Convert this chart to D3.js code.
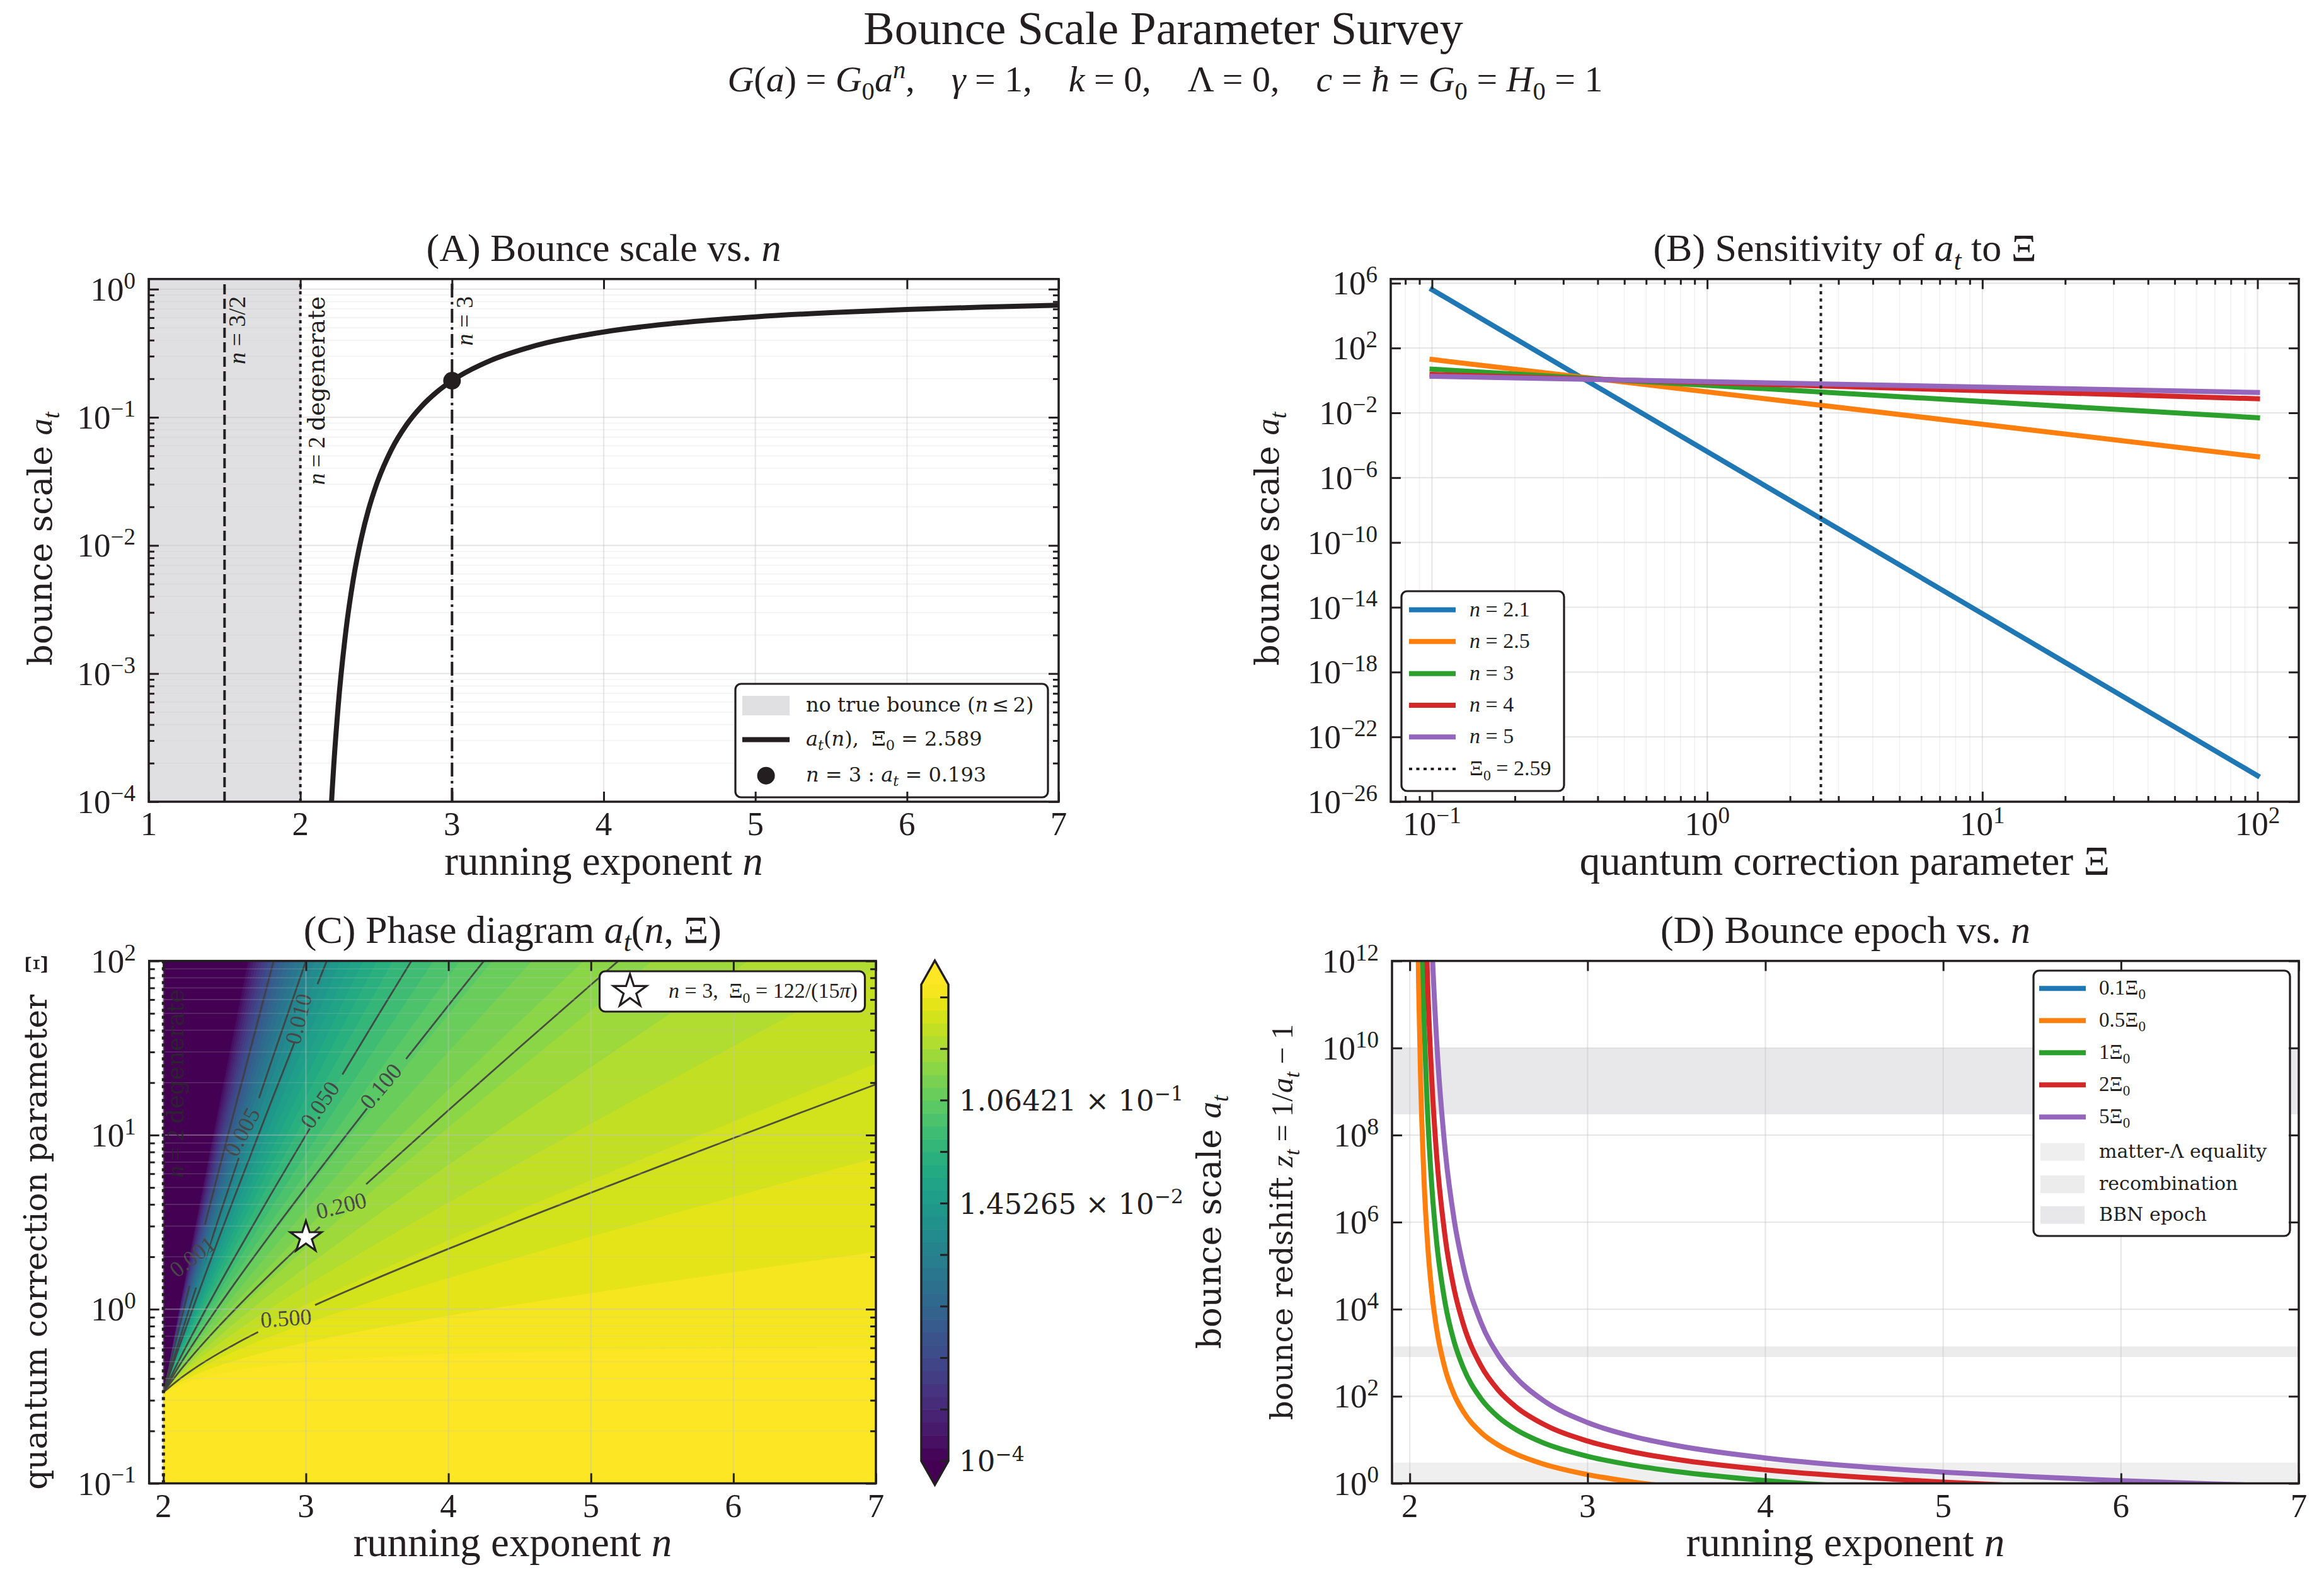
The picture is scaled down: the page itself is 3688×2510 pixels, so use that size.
<!DOCTYPE html>
<html><head><meta charset="utf-8">
<script src="https://d3js.org/d3.v7.min.js"></script>
<style>html,body{margin:0;padding:0;background:#fff;} svg text{white-space:pre;}</style>
</head><body>
<svg id="fig" xmlns="http://www.w3.org/2000/svg" width="3688" height="2510"></svg>
<script>
// ===================== DATA =====================
const XI0 = 2.589;                       // Ξ0 = 122/(15π)

// Panel A : bounce scale a_t(n) at Ξ0
const aN  = [2.20, 2.21, 2.22, 2.25, 2.30, 2.35, 2.40, 2.45, 2.50, 2.60, 2.70, 2.80, 2.90, 3.00, 3.25, 3.50, 4.00, 4.50, 5.00, 5.50, 6.00, 6.50, 7.00];
const aAt = [7.65e-5, 1.235e-4, 1.91e-4, 5.70e-4, 2.15e-3, 5.53e-3, 1.115e-2, 1.917e-2, 2.947e-2, 5.58e-2, 8.75e-2, 0.1221, 0.1577, 0.1931, 0.2763, 0.3488, 0.4633, 0.5465, 0.6084, 0.6562, 0.6941, 0.7244, 0.7491];
const aMarkN = 3, aMarkAt = 0.193;
const aSpanN = [1, 2];
const aRefN = [1.5, 2, 3];
const aXTicks = [1, 2, 3, 4, 5, 6, 7];
const aYExp = [-4, -3, -2, -1, 0];

// Panel B : a_t versus Ξ for several n (straight lines in log-log)
const bN = [2.1, 2.5, 3, 4, 5];
const bXiEnds = [0.1, 100];
const bAtLow  = [4.04e5, 19.75, 5.0, 2.357, 1.800];            // at Ξ = 0.1
const bAtHigh = [4.04e-25, 1.975e-5, 5.0e-3, 7.45e-2, 0.180];  // at Ξ = 100
const bXExp = [-1, 0, 1, 2];
const bYExp = [6, 2, -2, -6, -10, -14, -18, -22, -26];

// Panel C : phase diagram. Ξ at which a_t = 1 for each n (edge of the yellow region);
// iso-lines of a_t follow the Ξ^(-1/(n-2)) scaling seen in panel B.
const phaseN      = [2.0, 2.1, 2.2, 2.3, 2.4, 2.5, 2.75, 3.0, 3.5, 4.0, 4.5, 5.0, 5.5, 6.0, 6.5, 7.0];
const phaseUnitXi = [0.3333, 0.3636, 0.3889, 0.4103, 0.4286, 0.4444, 0.4762, 0.5, 0.5333, 0.5556, 0.5714, 0.5833, 0.5926, 0.6, 0.6061, 0.6111];
const cbarExp = [-4, -3.8919, -3.7838, -3.6757, -3.5676, -3.4595, -3.3514, -3.2432, -3.1351, -3.0270,
                 -2.9189, -2.8108, -2.7027, -2.5946, -2.4865, -2.3784, -2.2703, -2.1622, -2.0541, -1.9459,
                 -1.8378, -1.7297, -1.6216, -1.5135, -1.4054, -1.2973, -1.1892, -1.0811, -0.9730, -0.8649,
                 -0.7568, -0.6486, -0.5405, -0.4324, -0.3243, -0.2162, -0.1081, 0];
const cbarTickIdx = [0, 4, 8, 12, 16, 20, 24, 28, 32, 36];
const cbarLabelIdx = [0, 20, 28];
const cbarLabelMant = ['', '1.45265', '1.06421'];
const cbarLabelExp = [-4, -2, -1];
const contourLevels = [0.001, 0.005, 0.010, 0.050, 0.100, 0.200, 0.500];
const contourLabels = ['0.001', '0.005', '0.010', '0.050', '0.100', '0.200', '0.500'];
const contourLabelN = [2.237, 2.60, 3.00, 3.142, 3.566, 3.261, 2.864];
const contourLabelAngle = [-38, -62, -76, -56, -50, -14, -4];
const cXTicks = [2, 3, 4, 5, 6, 7];
const cYExp = [-1, 0, 1, 2];
const cStarN = 3, cStarXi = 2.589;

// Panel D : bounce redshift z_t = 1/a_t - 1 for Ξ = k Ξ0
const dNames = ['0.1', '0.5', '1', '2', '5'];
const dN01 = [], dZ01 = [];   // z_t < 0 over the whole range: nothing visible
const dN05 = [2.04, 2.05, 2.06, 2.08, 2.10, 2.125, 2.15, 2.20, 2.25, 2.30, 2.40, 2.50, 2.60, 2.75, 3.00, 3.25, 3.50];
const dZ05 = [2.09e14, 2.40e11, 2.64e9, 9.49e6, 3.27e5, 2.226e4, 3741, 407.6, 108.7, 45.1, 14.86, 7.48, 4.64, 2.79, 1.589, 1.079, 0.806];
const dN1  = [2.06, 2.08, 2.10, 2.125, 2.15, 2.20, 2.25, 2.30, 2.40, 2.50, 2.60, 2.75, 3.00, 3.25, 3.50, 4.00, 4.50];
const dZ1  = [2.75e14, 5.50e10, 3.35e8, 5.70e6, 3.80e5, 1.307e4, 1754, 463, 88.7, 32.9, 16.9, 8.56, 4.18, 2.62, 1.867, 1.158, 0.830];
const dN2  = [2.08, 2.10, 2.125, 2.15, 2.20, 2.25, 2.30, 2.40, 2.50, 2.60, 2.75, 3.00, 3.25, 3.50, 4.00, 4.50, 5.00, 5.50, 6.00];
const dZ2  = [3.18e14, 3.43e11, 1.46e9, 3.86e7, 4.18e5, 2.81e4, 4680, 506, 134.7, 55.9, 23.1, 9.36, 5.30, 3.55, 2.053, 1.415, 1.071, 0.858, 0.714];
const dN5  = [2.10, 2.125, 2.15, 2.20, 2.25, 2.30, 2.40, 2.50, 2.60, 2.75, 3.00, 3.25, 3.50, 4.00, 4.50, 5.00, 5.50, 6.00, 6.50, 7.00];
const dZ5  = [3.27e15, 2.23e12, 1.74e10, 4.09e7, 1.097e6, 9.93e4, 5013, 847, 260.9, 80.7, 24.9, 12.12, 7.38, 3.83, 2.484, 1.810, 1.414, 1.155, 0.975, 0.842];
const dBandNames = ['matter-\u039B equality', 'recombination', 'BBN epoch'];
const dBandLo = [0.3, 800, 3e8];
const dBandHi = [3, 1400, 1e10];
const dXTicks = [2, 3, 4, 5, 6, 7];
const dYExp = [0, 2, 4, 6, 8, 10, 12];

// ===================== STYLE / HELPERS =====================
const W = 3688, H = 2510;
const INK = '#231f20';
const FN = "'Liberation Serif', 'Times New Roman', serif";
const FW = "'DejaVu Serif', serif";
const TAB = ['#1f77b4', '#ff7f0e', '#2ca02c', '#d62728', '#9467bd'];
const SPAN = '#e0e0e3';
const GRID = '#c4c4c4';
const BANDC = ['#efefef', '#ececec', '#e8e8eb'];
const pow10 = e => Math.pow(10, e);
const expStr = e => (e < 0 ? '\u2212' + Math.abs(e) : String(e));

const svg = d3.select('#fig');
svg.append('rect').attr('width', W).attr('height', H).attr('fill', '#fff');
const defs = svg.append('defs');

function rich(sel, parts, size) {
  let shift = 0;
  parts.forEach(p => {
    if (typeof p === 'string') p = {t: p};
    const ts = sel.append('tspan').text(p.t);
    if (p.i) ts.attr('font-style', 'italic');
    if (p.f) ts.attr('font-family', p.f);
    const target = p.sub ? 0.22 * size : (p.sup ? -0.36 * size : 0);
    if (target !== shift) ts.attr('dy', target - shift);
    shift = target;
    if (p.sub || p.sup) ts.attr('font-size', 0.7 * size);
  });
  return sel;
}
function addText(g, x, y, parts, o = {}) {
  const size = o.size || 50;
  const t = g.append('text').attr('x', x).attr('y', y)
    .attr('xml:space', 'preserve')
    .attr('font-family', o.font || FN).attr('font-size', size)
    .attr('fill', o.fill || INK).attr('text-anchor', o.anchor || 'start');
  if (o.rotate) t.attr('transform', `rotate(${o.rotate},${x},${y})`);
  if (o.opacity) t.attr('opacity', o.opacity);
  rich(t, Array.isArray(parts) ? parts : [parts], size);
  return t;
}
function clipFor(id, x, y) {
  const [x0, x1] = x.range(), [y0, y1] = y.range();
  defs.append('clipPath').attr('id', id).append('rect')
    .attr('x', x0).attr('y', y1).attr('width', x1 - x0).attr('height', y0 - y1);
  return `url(#${id})`;
}
function minorLog(domain) {
  const [lo, hi] = domain, out = [];
  for (let d = Math.floor(Math.log10(lo)) - 1; d <= Math.ceil(Math.log10(hi)); d++)
    for (let m = 2; m <= 9; m++) { const v = m * pow10(d); if (v > lo * 1.0001 && v < hi * 0.9999) out.push(v); }
  return out;
}
function grid(g, x, y, xMaj, xMin, yMaj, yMin) {
  const [x0, x1] = x.range(), [y0, y1] = y.range();
  const gg = g.append('g').attr('stroke', GRID).attr('fill', 'none');
  const vl = (vals, op, w) => vals.forEach(v => gg.append('line').attr('x1', x(v)).attr('x2', x(v))
      .attr('y1', y0).attr('y2', y1).attr('stroke-opacity', op).attr('stroke-width', w));
  const hl = (vals, op, w) => vals.forEach(v => gg.append('line').attr('y1', y(v)).attr('y2', y(v))
      .attr('x1', x0).attr('x2', x1).attr('stroke-opacity', op).attr('stroke-width', w));
  vl(xMin, 0.22, 1.6); hl(yMin, 0.22, 1.6); vl(xMaj, 0.4, 2.2); hl(yMaj, 0.4, 2.2);
}
function frame(g, x, y, xMaj, xMin, yMaj, yMin) {
  const [xl, xr] = x.range(), [yb, yt] = y.range();
  const mk = (gen, sc, vals, len, tr) => {
    if (!vals || !vals.length) return;
    const a = g.append('g').attr('transform', tr)
      .call(gen(sc).tickValues(vals).tickSize(-len).tickFormat(() => ''));
    a.select('.domain').remove();
    a.selectAll('.tick line').attr('stroke', INK).attr('stroke-width', 3);
    a.selectAll('.tick text').remove();
  };
  mk(d3.axisBottom, x, xMaj, 16, `translate(0,${yb})`);
  mk(d3.axisTop, x, xMaj, 16, `translate(0,${yt})`);
  mk(d3.axisBottom, x, xMin, 9, `translate(0,${yb})`);
  mk(d3.axisTop, x, xMin, 9, `translate(0,${yt})`);
  mk(d3.axisLeft, y, yMaj, 16, `translate(${xl},0)`);
  mk(d3.axisRight, y, yMaj, 16, `translate(${xr},0)`);
  mk(d3.axisLeft, y, yMin, 9, `translate(${xl},0)`);
  mk(d3.axisRight, y, yMin, 9, `translate(${xr},0)`);
  g.append('rect').attr('x', xl).attr('y', yt).attr('width', xr - xl).attr('height', yb - yt)
    .attr('fill', 'none').attr('stroke', INK).attr('stroke-width', 3.5);
}
function legendBox(g, x, y, w, h) {
  g.append('rect').attr('x', x).attr('y', y).attr('width', w).attr('height', h).attr('rx', 9)
    .attr('fill', '#fff').attr('stroke', INK).attr('stroke-width', 3.2);
}
const TICK = 53;
function xTickLabels(g, x, vals, yBase, isLog) {
  vals.forEach(v => addText(g, x(isLog ? pow10(v) : v), yBase,
    isLog ? ['10', {t: expStr(v), sup: true}] : String(v), {size: TICK, anchor: 'middle'}));
}
function yLogLabels(g, y, exps, xRight) {
  exps.forEach(e => addText(g, xRight, y(pow10(e)) + 0.34 * TICK, ['10', {t: expStr(e), sup: true}],
    {size: TICK, anchor: 'end'}));
}
const YL = 53, XL = 65, TT = 62;
const atParts = [{t: 'a', i: true, f: FN}, {t: 't', i: true, sub: true, f: FN}];

// ===================== SUPTITLE =====================
addText(svg, 1846, 70, 'Bounce Scale Parameter Survey', {size: 74, anchor: 'middle'});
addText(svg, 1849, 145, [
  {t: 'G', i: true}, '(', {t: 'a', i: true}, ') = ', {t: 'G', i: true}, {t: '0', sub: true}, {t: 'a', i: true},
  {t: 'n', i: true, sup: true}, ',    ', {t: '\u03B3', i: true}, ' = 1,    ', {t: 'k', i: true}, ' = 0,    \u039B = 0,    ',
  {t: 'c', i: true}, ' = ', {t: '\u0127', i: true}, ' = ', {t: 'G', i: true}, {t: '0', sub: true}, ' = ',
  {t: 'H', i: true}, {t: '0', sub: true}, ' = 1'], {size: 58, anchor: 'middle'});

// ===================== PANEL A =====================
{
  const x = d3.scaleLinear().domain([1, 7]).range([236, 1680]);
  const y = d3.scaleLog().domain([1e-4, 1.2]).range([1272, 442.7]);
  const g = svg.append('g');
  const cp = clipFor('clipA', x, y);
  const [yb, yt] = y.range();
  g.append('rect').attr('x', x(aSpanN[0])).attr('width', x(aSpanN[1]) - x(aSpanN[0]))
    .attr('y', yt).attr('height', yb - yt).attr('fill', SPAN);
  const yMaj = aYExp.map(pow10), yMin = minorLog(y.domain());
  grid(g, x, y, aXTicks, [], yMaj, yMin);
  const dashes = ['16,7', '5,6.5', '22,7,4,7'];
  aRefN.forEach((n, i) => g.append('line').attr('x1', x(n)).attr('x2', x(n)).attr('y1', yb).attr('y2', yt)
    .attr('stroke', INK).attr('stroke-width', 4).attr('stroke-dasharray', dashes[i]));
  const line = d3.line().x(d => x(d[0])).y(d => y(d[1])).curve(d3.curveMonotoneX);
  g.append('path').attr('d', line(d3.zip(aN, aAt))).attr('fill', 'none').attr('stroke', INK)
    .attr('stroke-width', 8).attr('stroke-linecap', 'square').attr('clip-path', cp);
  g.append('circle').attr('cx', x(aMarkN)).attr('cy', y(aMarkAt)).attr('r', 14).attr('fill', INK);
  // annotations
  addText(g, x(aRefN[0]) + 33, y(0.88), [{t: 'n', i: true}, ' = 3/2'], {size: 38, anchor: 'end', rotate: -90});
  addText(g, x(aRefN[1]) + 38, y(0.88), [{t: 'n', i: true}, ' = 2 ', {t: 'degenerate', f: FW}], {size: 37, anchor: 'end', rotate: -90});
  addText(g, x(aRefN[2]) + 33, y(0.88), [{t: 'n', i: true}, ' = 3'], {size: 38, anchor: 'end', rotate: -90});
  // legend
  legendBox(g, 1167, 1085, 496, 180);
  g.append('rect').attr('x', 1178).attr('y', 1104).attr('width', 75).attr('height', 31).attr('fill', SPAN);
  g.append('line').attr('x1', 1178).attr('x2', 1253).attr('y1', 1173.5).attr('y2', 1173.5).attr('stroke', INK).attr('stroke-width', 8);
  g.append('circle').attr('cx', 1215.6).attr('cy', 1230.7).attr('r', 14).attr('fill', INK);
  const LS = 32;
  addText(g, 1279, 1119.5 + 0.3 * LS, ['no true bounce (', {t: 'n', i: true}, '\u2009\u2264\u20092)'], {size: LS, font: FW});
  addText(g, 1279, 1173.5 + 0.3 * LS, [{t: 'a', i: true}, {t: 't', i: true, sub: true}, '(', {t: 'n', i: true}, '),  \u039E', {t: '0', sub: true}, ' = 2.589'], {size: LS, font: FW});
  addText(g, 1279, 1230.7 + 0.3 * LS, [{t: 'n', i: true}, ' = 3 : ', {t: 'a', i: true}, {t: 't', i: true, sub: true}, ' = 0.193'], {size: LS, font: FW});
  frame(g, x, y, aXTicks, [], yMaj, yMin);
  xTickLabels(g, x, aXTicks, 1325, false);
  yLogLabels(g, y, aYExp, 215);
  addText(g, 958, 1387.5, ['running exponent ', {t: 'n', i: true}], {size: XL, anchor: 'middle'});
  addText(g, 82, 855, ['bounce scale ', ...atParts], {size: YL, font: FW, anchor: 'middle', rotate: -90});
  addText(g, 958, 414, ['(A) Bounce scale vs. ', {t: 'n', i: true}], {size: TT, anchor: 'middle'});
}

// ===================== PANEL B =====================
{
  const x = d3.scaleLog().domain([pow10(-1.15), pow10(2.15)]).range([2207, 3648]);
  const y = d3.scaleLog().domain([1e-26, pow10(6.26)]).range([1272, 442.7]);
  const g = svg.append('g');
  const cp = clipFor('clipB', x, y);
  const [yb, yt] = y.range();
  const xMaj = bXExp.map(pow10), xMin = minorLog(x.domain()), yMaj = bYExp.map(pow10);
  grid(g, x, y, xMaj, xMin, yMaj, []);
  const line = d3.line().x(d => x(d[0])).y(d => y(d[1]));
  bN.forEach((n, i) => g.append('path').attr('d', line([[bXiEnds[0], bAtLow[i]], [bXiEnds[1], bAtHigh[i]]]))
    .attr('fill', 'none').attr('stroke', TAB[i]).attr('stroke-width', 8).attr('stroke-linecap', 'square').attr('clip-path', cp));
  g.append('line').attr('x1', x(XI0)).attr('x2', x(XI0)).attr('y1', yb).attr('y2', yt)
    .attr('stroke', INK).attr('stroke-width', 4).attr('stroke-dasharray', '5,6.5');
  // legend
  legendBox(g, 2224, 938, 258, 317);
  const rows = [967.6, 1017.8, 1068.7, 1118.9, 1169.2, 1220];
  const LS = 34;
  bN.forEach((n, i) => {
    g.append('line').attr('x1', 2236).attr('x2', 2310).attr('y1', rows[i]).attr('y2', rows[i]).attr('stroke', TAB[i]).attr('stroke-width', 8);
    addText(g, 2332, rows[i] + 0.3 * LS, [{t: 'n', i: true}, ' = ' + n], {size: LS});
  });
  g.append('line').attr('x1', 2236).attr('x2', 2310).attr('y1', rows[5]).attr('y2', rows[5]).attr('stroke', INK).attr('stroke-width', 4).attr('stroke-dasharray', '5,6.5');
  addText(g, 2332, rows[5] + 0.3 * LS, ['\u039E', {t: '0', sub: true}, ' = 2.59'], {size: LS});
  frame(g, x, y, xMaj, xMin, yMaj, []);
  xTickLabels(g, x, bXExp, 1325, true);
  yLogLabels(g, y, bYExp, 2186);
  addText(g, 2927.5, 1387.5, 'quantum correction parameter \u039E', {size: XL, anchor: 'middle'});
  addText(g, 2029, 855, ['bounce scale ', ...atParts], {size: YL, font: FW, anchor: 'middle', rotate: -90});
  addText(g, 2927.5, 414, ['(B) Sensitivity of ', {t: 'a', i: true}, {t: 't', i: true, sub: true}, ' to \u039E'], {size: TT, anchor: 'middle'});
}

// ===================== PANEL C =====================
{
  const x = d3.scaleLinear().domain([1.9, 7]).range([236.7, 1390]);
  const y = d3.scaleLog().domain([0.1, 100]).range([2353.5, 1524.6]);
  const g = svg.append('g');
  const cp = clipFor('clipC', x, y);
  const [yb, yt] = y.range();
  // iso-line of a_t = 10^(-lam): Ξ = Ξ1(n) * 10^((n-2) lam)
  const isoPix = lam => phaseN.map((n, i) => y(phaseUnitXi[i] * pow10((n - 2) * lam)));
  const area = d3.area().x(d => d.x).y0(d => d.y0).y1(d => d.y1).curve(d3.curveMonotoneX);
  const fillG = g.append('g').attr('clip-path', cp);
  const band = (lo, hi, color) => {
    const data = phaseN.map((n, i) => ({x: x(n), y0: lo[i], y1: hi[i]}));
    fillG.append('path').attr('d', area(data)).attr('fill', color).attr('stroke', color).attr('stroke-width', 1.2);
  };
  band(phaseN.map(() => yb + 40), isoPix(0), d3.interpolateViridis(1));          // a_t > 1
  for (let k = 0; k < cbarExp.length - 1; k++) {
    const mid = Math.log10((pow10(cbarExp[k]) + pow10(cbarExp[k + 1])) / 2);
    band(isoPix(-cbarExp[k + 1]), isoPix(-cbarExp[k]), d3.interpolateViridis((mid + 4) / 4));
  }
  band(isoPix(4), phaseN.map(() => yt - 400), d3.interpolateViridis(0));         // a_t < 1e-4
  // contour lines with inline labels
  const cScale = d3.scaleLinear().domain(phaseN).range(phaseUnitXi.map(v => Math.log10(v)));
  const isoAt = (n, lam) => [x(n), y(pow10(cScale(n) + (n - 2) * lam))];
  const mask = defs.append('mask').attr('id', 'cmask').attr('maskUnits', 'userSpaceOnUse')
    .attr('x', 0).attr('y', 0).attr('width', W).attr('height', H);
  mask.append('rect').attr('width', W).attr('height', H).attr('fill', '#fff');
  const CLS = 36;
  const labelPos = contourLevels.map((L, i) => {
    const lam = -Math.log10(L), n0 = contourLabelN[i];
    const p = isoAt(n0, lam), pa = isoAt(n0 - 0.03, lam), pb = isoAt(n0 + 0.03, lam);
    const lineAng = Math.atan2(pb[1] - pa[1], pb[0] - pa[0]) * 180 / Math.PI;
    mask.append('rect').attr('x', p[0] - 50).attr('y', p[1] - 15).attr('width', 100).attr('height', 30)
      .attr('fill', '#000').attr('transform', `rotate(${lineAng},${p[0]},${p[1]})`);
    return p;
  });
  const lineG = g.append('g').attr('clip-path', cp).append('g').attr('mask', 'url(#cmask)');
  const cline = d3.line().x(d => d[0]).y(d => d[1]).curve(d3.curveMonotoneX);
  contourLevels.forEach(L => {
    const pix = isoPix(-Math.log10(L));
    lineG.append('path').attr('d', cline(phaseN.map((n, i) => [x(n), pix[i]])))
      .attr('fill', 'none').attr('stroke', '#3f3f3f').attr('stroke-width', 2.8).attr('stroke-opacity', 0.9);
  });
  contourLevels.forEach((L, i) => {
    const p = labelPos[i];
    addText(g, p[0], p[1] + 0.33 * CLS, contourLabels[i], {size: CLS, anchor: 'middle', fill: '#474747', rotate: contourLabelAngle[i]});
  });
  const yMaj = cYExp.map(pow10), yMin = minorLog(y.domain());
  grid(g, x, y, cXTicks, [], yMaj, yMin);
  g.append('line').attr('x1', x(2)).attr('x2', x(2)).attr('y1', yb).attr('y2', yt)
    .attr('stroke', INK).attr('stroke-width', 5).attr('stroke-dasharray', '5,6');
  addText(g, x(2.142), y(68.9), [{t: 'n', i: true}, ' = 2 ', {t: 'degenerate', f: FW}], {size: 37, anchor: 'end', rotate: -90, fill: '#2a2a2a', opacity: 0.85});
  const star = d3.symbol(d3.symbolStar, 760);
  g.append('path').attr('d', star()).attr('transform', `translate(${x(cStarN)},${y(cStarXi)})`)
    .attr('fill', '#fff').attr('stroke', INK).attr('stroke-width', 3.2);
  // legend
  legendBox(g, 951.5, 1541, 421, 64);
  g.append('path').attr('d', d3.symbol(d3.symbolStar, 860)()).attr('transform', 'translate(999.7,1573)')
    .attr('fill', '#fff').attr('stroke', INK).attr('stroke-width', 3.2);
  addText(g, 1061, 1573 + 0.3 * 34, [{t: 'n', i: true}, ' = 3,  \u039E', {t: '0', sub: true}, ' = 122/(15', {t: '\u03C0', i: true}, ')'], {size: 34});
  frame(g, x, y, cXTicks, [], yMaj, yMin);
  xTickLabels(g, x, cXTicks, 2406.5, false);
  yLogLabels(g, y, cYExp, 215.7);
  addText(g, 813.4, 2469, ['running exponent ', {t: 'n', i: true}], {size: XL, anchor: 'middle'});
  addText(g, 74, 1939, ['quantum correction parameter  ', {t: '\u039E', f: FN}], {size: 50, font: FW, anchor: 'middle', rotate: -90});
  addText(g, 813.4, 1495.6, ['(C) Phase diagram ', {t: 'a', i: true}, {t: 't', i: true, sub: true}, '(', {t: 'n', i: true}, ', \u039E)'], {size: TT, anchor: 'middle'});

  // ---- colorbar ----
  const cb = svg.append('g');
  const yc = d3.scaleLog().domain([1e-4, 1]).range([2318, 1562]);
  const cx0 = 1462, cx1 = 1505, cxm = (cx0 + cx1) / 2;
  for (let k = 0; k < cbarExp.length - 1; k++) {
    const mid = Math.log10((pow10(cbarExp[k]) + pow10(cbarExp[k + 1])) / 2);
    const c = d3.interpolateViridis((mid + 4) / 4);
    cb.append('rect').attr('x', cx0).attr('width', cx1 - cx0).attr('y', yc(pow10(cbarExp[k + 1])))
      .attr('height', yc(pow10(cbarExp[k])) - yc(pow10(cbarExp[k + 1])) + 0.6).attr('fill', c);
  }
  cb.append('path').attr('d', `M${cx0},${yc(1)} L${cxm},1524 L${cx1},${yc(1)} Z`).attr('fill', d3.interpolateViridis(1));
  cb.append('path').attr('d', `M${cx0},${yc(1e-4)} L${cxm},2356 L${cx1},${yc(1e-4)} Z`).attr('fill', d3.interpolateViridis(0));
  cbarTickIdx.forEach(k => {
    const yy = yc(pow10(cbarExp[k]));
    cb.append('line').attr('x1', cx1).attr('x2', cx1 - 13).attr('y1', yy).attr('y2', yy).attr('stroke', INK).attr('stroke-width', 3);
  });
  cb.append('path').attr('d', `M${cx0},${yc(1)} L${cxm},1524 L${cx1},${yc(1)} L${cx1},${yc(1e-4)} L${cxm},2356 L${cx0},${yc(1e-4)} Z`)
    .attr('fill', 'none').attr('stroke', INK).attr('stroke-width', 3.5).attr('stroke-linejoin', 'miter');
  cbarLabelIdx.forEach((k, j) => {
    const yy = yc(pow10(cbarExp[k]));
    const parts = cbarLabelMant[j] ? [cbarLabelMant[j] + ' \u00D7 10', {t: expStr(cbarLabelExp[j]), sup: true}]
                                   : ['10', {t: expStr(cbarLabelExp[j]), sup: true}];
    addText(cb, 1522, yy + 0.36 * 45, parts, {size: 45, font: FW});
  });
  addText(cb, 1937, 1939, ['bounce scale ', ...atParts], {size: YL, font: FW, anchor: 'middle', rotate: -90});
}

// ===================== PANEL D =====================
{
  const x = d3.scaleLinear().domain([1.9, 7]).range([2209, 3648]);
  const y = d3.scaleLog().domain([1, 1e12]).range([2353.5, 1524.6]);
  const g = svg.append('g');
  const cp = clipFor('clipD', x, y);
  const [xl, xr] = x.range(), [yb, yt] = y.range();
  const bandG = g.append('g').attr('clip-path', cp);
  dBandNames.forEach((nm, i) => bandG.append('rect').attr('x', xl).attr('width', xr - xl)
    .attr('y', y(dBandHi[i])).attr('height', y(dBandLo[i]) - y(dBandHi[i])).attr('fill', BANDC[i]));
  const yMaj = dYExp.map(pow10);
  grid(g, x, y, dXTicks, [], yMaj, []);
  const line = d3.line().x(d => x(d[0])).y(d => y(d[1])).curve(d3.curveMonotoneX);
  const sers = [[dN01, dZ01], [dN05, dZ05], [dN1, dZ1], [dN2, dZ2], [dN5, dZ5]];
  sers.forEach(([ns, zs], i) => {
    if (!ns.length) return;
    g.append('path').attr('d', line(d3.zip(ns, zs))).attr('fill', 'none').attr('stroke', TAB[i])
      .attr('stroke-width', 8).attr('clip-path', cp);
  });
  // legend
  legendBox(g, 3227, 1540, 407, 421);
  const rows = [1568.3, 1619.3, 1670.3, 1721.3, 1772.3, 1827.7, 1879, 1927.7];
  dNames.forEach((nm, i) => {
    g.append('line').attr('x1', 3236).attr('x2', 3310).attr('y1', rows[i]).attr('y2', rows[i]).attr('stroke', TAB[i]).attr('stroke-width', 8);
    addText(g, 3331, rows[i] + 0.3 * 33, [nm + '\u039E', {t: '0', sub: true}], {size: 33});
  });
  dBandNames.forEach((nm, i) => {
    const r = rows[5 + i];
    g.append('rect').attr('x', 3238).attr('y', r - 14).attr('width', 70).attr('height', 28).attr('fill', BANDC[i]);
    addText(g, 3331, r + 0.3 * 30, nm, {size: 30, font: FW});
  });
  frame(g, x, y, dXTicks, [], yMaj, []);
  xTickLabels(g, x, dXTicks, 2406.5, false);
  yLogLabels(g, y, dYExp, 2188);
  addText(g, 2928.5, 2469, ['running exponent ', {t: 'n', i: true}], {size: XL, anchor: 'middle'});
  addText(g, 2051, 1939, ['bounce redshift ', {t: 'z', i: true, f: FN}, {t: 't', i: true, sub: true, f: FN},
    {t: ' = 1/', f: FN}, ...atParts, {t: ' \u2212 1', f: FN}], {size: 48.5, font: FW, anchor: 'middle', rotate: -90});
  addText(g, 2928.5, 1495.6, ['(D) Bounce epoch vs. ', {t: 'n', i: true}], {size: TT, anchor: 'middle'});
}
</script>
</body></html>
